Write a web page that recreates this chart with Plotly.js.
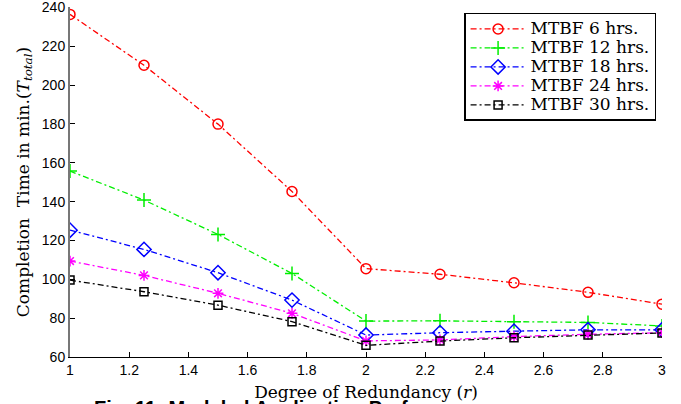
<!DOCTYPE html>
<html>
<head>
<meta charset="utf-8">
<script src="https://cdn.plot.ly/plotly-3.0.1.min.js"></script>
<style>html,body{margin:0;padding:0;background:#fff;}#chart{width:681px;height:404px;}</style>
</head>
<body>
<div id="chart"></div>
<script>
const redundancy = [1, 1.25, 1.5, 1.75, 2, 2.25, 2.5, 2.75, 3];
const mtbf6  = [236.4, 210.2, 179.9, 145.2, 105.5, 102.6, 98.2, 93.3, 87.2];
const mtbf12 = [155.7, 140.8, 123.1, 103.0, 78.5, 78.6, 78.2, 77.8, 76.0];
const mtbf18 = [125.3, 115.4, 103.4, 89.3, 71.3, 72.5, 73.3, 74.0, 74.0];
const mtbf24 = [109.4, 102.0, 92.8, 82.5, 68.3, 68.8, 70.5, 71.7, 72.5];
const mtbf30 = [99.6, 93.6, 86.7, 78.2, 66.0, 68.2, 69.9, 71.3, 72.4];
const seriesNames = ['MTBF 6 hrs.', 'MTBF 12 hrs.', 'MTBF 18 hrs.', 'MTBF 24 hrs.', 'MTBF 30 hrs.'];
const xTicks = [1, 1.2, 1.4, 1.6, 1.8, 2, 2.2, 2.4, 2.6, 2.8, 3];
const yTicks = [60, 80, 100, 120, 140, 160, 180, 200, 220, 240];

const serif = 'DejaVu Serif, serif';
const sans = 'Liberation Sans, Arial, sans-serif';
const dash = '6px,3px,2px,3px';

const styles = [
  {color: '#ff0000', symbol: 'circle-open', size: 10},
  {color: '#00ee00', symbol: 'cross-thin-open', size: 10},
  {color: '#0000ff', symbol: 'diamond-open', size: 11},
  {color: '#ff00ff', symbol: 'asterisk-open', size: 9},
  {color: '#000000', symbol: 'square-open', size: 8}
];
const data = [mtbf6, mtbf12, mtbf18, mtbf24, mtbf30].map((ys, i) => ({
  x: redundancy, y: ys, type: 'scatter', mode: 'lines+markers',
  name: '<span style="font-size:17px">' + seriesNames[i] + '</span>',
  line: {color: styles[i].color, width: 1.3, dash: dash},
  marker: {color: styles[i].color, symbol: styles[i].symbol, size: styles[i].size,
           line: {color: styles[i].color, width: 1.5}}
}));

const layout = {
  width: 681, height: 404,
  margin: {l: 70, r: 19, t: 7, b: 47},
  paper_bgcolor: '#fff', plot_bgcolor: '#fff',
  showlegend: true,
  legend: {
    x: 0.99, xanchor: 'right', y: 0.983, yanchor: 'top',
    bordercolor: '#000', borderwidth: 1.5, bgcolor: '#fff',
    font: {family: serif, size: 12, color: '#000'},
    tracegroupgap: 0, itemwidth: 55
  },
  xaxis: {
    range: [1, 3], tickvals: xTicks, ticktext: xTicks.map(String),
    ticks: 'inside', ticklen: 5, tickcolor: '#000', tickwidth: 1,
    showline: true, linecolor: '#000', linewidth: 1, mirror: false,
    showgrid: false, zeroline: false,
    tickfont: {family: sans, size: 14, color: '#000'},
    title: {text: 'Degree of Redundancy (<i>r</i>)', font: {family: serif, size: 17, color: '#000'}, standoff: 9}
  },
  yaxis: {
    range: [60, 240.2], tickvals: yTicks, ticktext: yTicks.map(String),
    ticks: 'inside', ticklen: 5, tickcolor: '#000', tickwidth: 1,
    showline: true, linecolor: '#777', linewidth: 2, mirror: false,
    showgrid: false, zeroline: false, ticklabeloverflow: 'allow',
    tickfont: {family: sans, size: 14, color: '#000'},
    title: {text: 'Completion  Time in min.(<i>T</i><sub><i>total</i></sub>)', font: {family: serif, size: 17, color: '#000'}, standoff: 8}
  },
  annotations: [{
    text: '<b>Fig. 11: Modeled Application Performance</b>',
    xref: 'paper', yref: 'paper', x: 0.038, y: -0.108, xanchor: 'left', yanchor: 'top',
    showarrow: false, font: {family: sans, size: 20, color: '#000'}
  }]
};

Plotly.newPlot('chart', data, layout, {displayModeBar: false, staticPlot: true});
</script>
</body>
</html>
